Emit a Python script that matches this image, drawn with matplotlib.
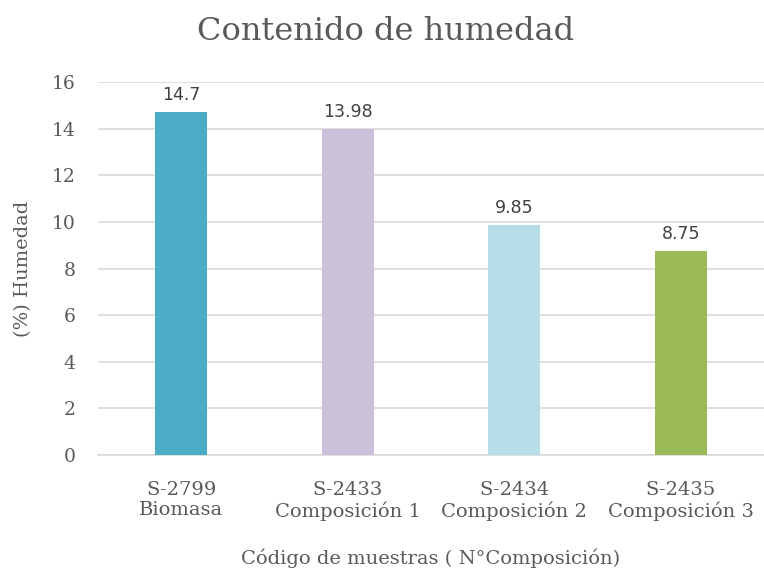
import matplotlib
matplotlib.use("Agg")
import matplotlib.pyplot as plt
import numpy as np

# --- data ---
samples = ["S-2799\nBiomasa", "S-2433\nComposición 1",
           "S-2434\nComposición 2", "S-2435\nComposición 3"]
humidity = [14.7, 13.98, 9.85, 8.75]
bar_colors = ["#4BACC6", "#CCC1DA", "#B7DEE8", "#9BBB59"]
y_ticks = [0, 2, 4, 6, 8, 10, 12, 14, 16]

text_color = "#595959"
plt.rcParams["font.family"] = ["DejaVu Serif"]

# --- plot ---
fig = plt.figure(figsize=(7.64, 5.78), dpi=100)
ax = fig.add_axes([98 / 764, 1 - 455 / 578, 1 - 98 / 764, (455 - 82) / 578])

x = np.arange(len(samples))
bars = ax.bar(x, humidity, width=0.31, color=bar_colors, zorder=3)
for b, v in zip(bars, humidity):
    ax.text(b.get_x() + b.get_width() / 2, v + 0.35, f"{v:g}",
            ha="center", va="bottom", fontsize=12.5, color="#404040",
            family="DejaVu Sans")

ax.set_xlim(-0.5, len(samples) - 0.5)
ax.set_ylim(0, 16)
ax.set_yticks(y_ticks)
ax.set_xticks(x)
ax.set_xticklabels(samples, fontsize=14, color=text_color, linespacing=1.15)
ax.tick_params(axis="y", labelsize=13.5, labelcolor=text_color, length=0, pad=16)
ax.tick_params(axis="x", length=0, pad=19)
ax.grid(True, axis="y", color="#D9D9D9", linewidth=1.2, zorder=0)
for s in ["top", "right", "left"]:
    ax.spines[s].set_visible(False)
ax.spines["bottom"].set_color("#D9D9D9")
ax.spines["bottom"].set_linewidth(1.2)

ax.set_ylabel("(%) Humedad", fontsize=14, color=text_color, labelpad=14)
ax.set_xlabel("Código de muestras ( N°Composición)", fontsize=14,
              color=text_color, labelpad=20)
fig.text(386 / 764, 1 - 31 / 578, "Contenido de humedad", ha="center",
         va="center", fontsize=23, color=text_color)

fig.savefig("out.png", dpi=100)
